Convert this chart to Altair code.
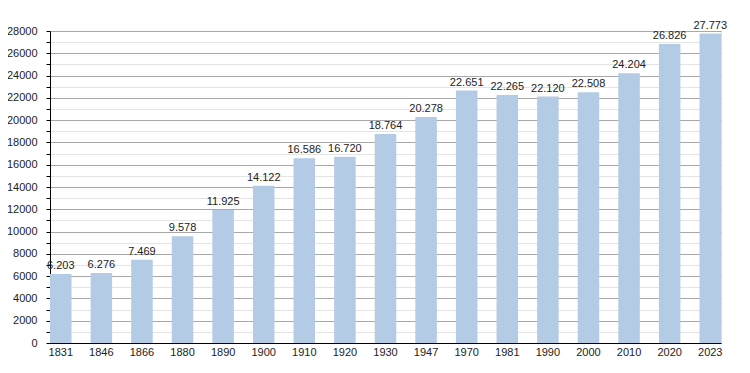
import altair as alt
import pandas as pd

years = ["1831", "1846", "1866", "1880", "1890", "1900", "1910", "1920", "1930",
         "1947", "1970", "1981", "1990", "2000", "2010", "2020", "2023"]
population = [6203, 6276, 7469, 9578, 11925, 14122, 16586, 16720, 18764,
              20278, 22651, 22265, 22120, 22508, 24204, 26826, 27773]
y_ticks = list(range(0, 28001, 1000))

df = pd.DataFrame({"year": years, "pop": population})
df["label"] = [f"{v:,}".replace(",", ".") for v in population]

font = "Liberation Sans"

x = alt.X("year:N", sort=years, title=None,
          scale=alt.Scale(paddingInner=0.47, paddingOuter=0),
          axis=alt.Axis(labelAngle=0, ticks=False, domainColor="#000",
                        labelColor="#222", labelFont=font, labelFontSize=11,
                        labelPadding=3, grid=False))
y = alt.Y("pop:Q", title=None,
          scale=alt.Scale(domain=[0, 28000], nice=False),
          axis=alt.Axis(values=y_ticks,
                        labelExpr="datum.value % 2000 === 0 ? datum.value : ''",
                        format="d",
                        gridColor={"condition": {"test": "datum.value % 2000 === 0", "value": "#a8a8a8"},
                                   "value": "#e4e4e4"},
                        tickColor="#000", tickSize=4, domainColor="#000",
                        labelColor="#222", labelFont=font, labelFontSize=11,
                        labelPadding=9))

bars = alt.Chart(df).mark_bar(color="#b3cbe5").encode(x=x, y=y)
text = alt.Chart(df).mark_text(baseline="bottom", dy=-3, font=font, fontSize=11,
                               color="#222").encode(x=x, y=y, text="label:N")

chart = alt.layer(bars, text).properties(
    width=671, height=312,
    autosize=alt.AutoSizeParams(type="none"),
    padding={"left": 42, "top": 23, "right": 20, "bottom": 22},
).configure_view(stroke=None).configure(background="white")

chart.save("out.html", embed_options={"renderer": "svg", "actions": False})
